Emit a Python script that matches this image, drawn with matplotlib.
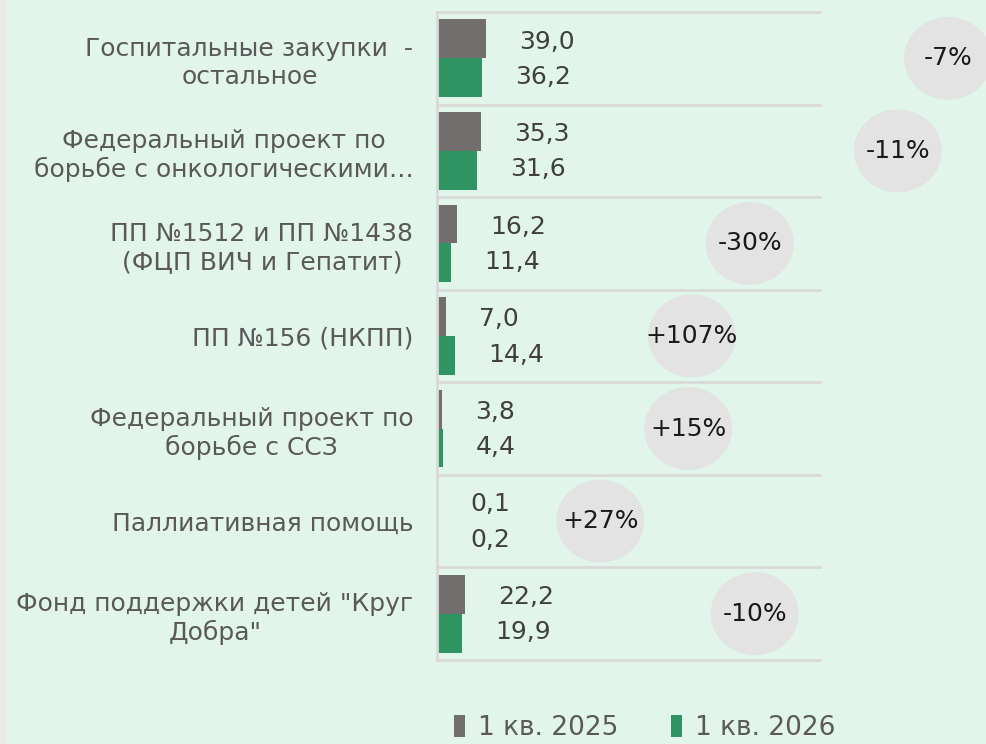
import matplotlib.pyplot as plt
from matplotlib.patches import Ellipse, Rectangle

# data
categories = [
    'Госпитальные закупки  -\nостальное',
    'Федеральный проект по\nборьбе с онкологическими…',
    'ПП №1512 и ПП №1438\n(ФЦП ВИЧ и Гепатит)',
    'ПП №156 (НКПП)',
    'Федеральный проект по\nборьбе с ССЗ',
    'Паллиативная помощь',
    'Фонд поддержки детей "Круг\nДобра"',
]
values_2025 = [39.0, 35.3, 16.2, 7.0, 3.8, 0.1, 22.2]
values_2026 = [36.2, 31.6, 11.4, 14.4, 4.4, 0.2, 19.9]
changes = ['-7%', '-11%', '-30%', '+107%', '+15%', '+27%', '-10%']
# where the change bubbles sit (data units along x)
bubble_x = [407, 367, 249, 203, 200, 130, 253]

bg = '#e2f5eb'
gray = '#736e6e'
green = '#2e9462'
fs = 18

fig = plt.figure(figsize=(9.87, 7.44), dpi=100)
fig.patch.set_facecolor(bg)
fig.patches.append(Rectangle((0, 0), 5 / 987, 1, transform=fig.transFigure,
                             color='#e9e9e9', zorder=0))

ax = fig.add_axes([437 / 987, 1 - 660 / 744, 383 / 987, 648 / 744])
ax.set_facecolor(bg)

y = list(range(len(categories)))
h = 0.42
ax.barh([i - h / 2 for i in y], values_2025, height=h, color=gray, label='1 кв. 2025')
ax.barh([i + h / 2 for i in y], values_2026, height=h, color=green, label='1 кв. 2026')

ax.set_xlim(0, 305)
ax.set_ylim(len(categories) - 0.5, -0.5)

# value labels
for i in y:
    for v, dy in ((values_2025[i], -h / 2 + 0.03), (values_2026[i], h / 2 - 0.01)):
        ax.annotate(f'{v:.1f}'.replace('.', ','), (v, i + dy), xytext=(33, 0),
                    textcoords='offset pixels', ha='left', va='center',
                    fontsize=fs, color='#404040')

# change bubbles
for i in y:
    ax.add_patch(Ellipse((bubble_x[i], i), 69, 0.88, color='#e3e3e3',
                         clip_on=False, zorder=3))
    ax.text(bubble_x[i], i, changes[i], ha='center', va='center', fontsize=fs,
            color='#1a1a1a', zorder=4, clip_on=False)

# separators between categories
for b in [k - 0.5 for k in range(len(categories) + 1)]:
    ax.axhline(b, color='#d9d9d9', lw=2, zorder=0, clip_on=False)

ax.set_yticks(y)
ax.set_yticklabels(categories, fontsize=fs, color='#595959', multialignment='center')
ax.tick_params(axis='y', length=0, pad=17)
ax.set_xticks([])
for s in ['top', 'right', 'bottom']:
    ax.spines[s].set_visible(False)
ax.spines['left'].set_color('#d9d9d9')
ax.spines['left'].set_linewidth(2)

fig.legend(loc='center', bbox_to_anchor=(645 / 987, 1 - 728 / 744), ncol=2,
           frameon=False, fontsize=19, labelcolor='#595959', handlelength=0.4,
           handleheight=0.9, handletextpad=0.5, columnspacing=2.0,
           borderpad=0.1)

fig.savefig('out.png', dpi=100, facecolor=bg)
